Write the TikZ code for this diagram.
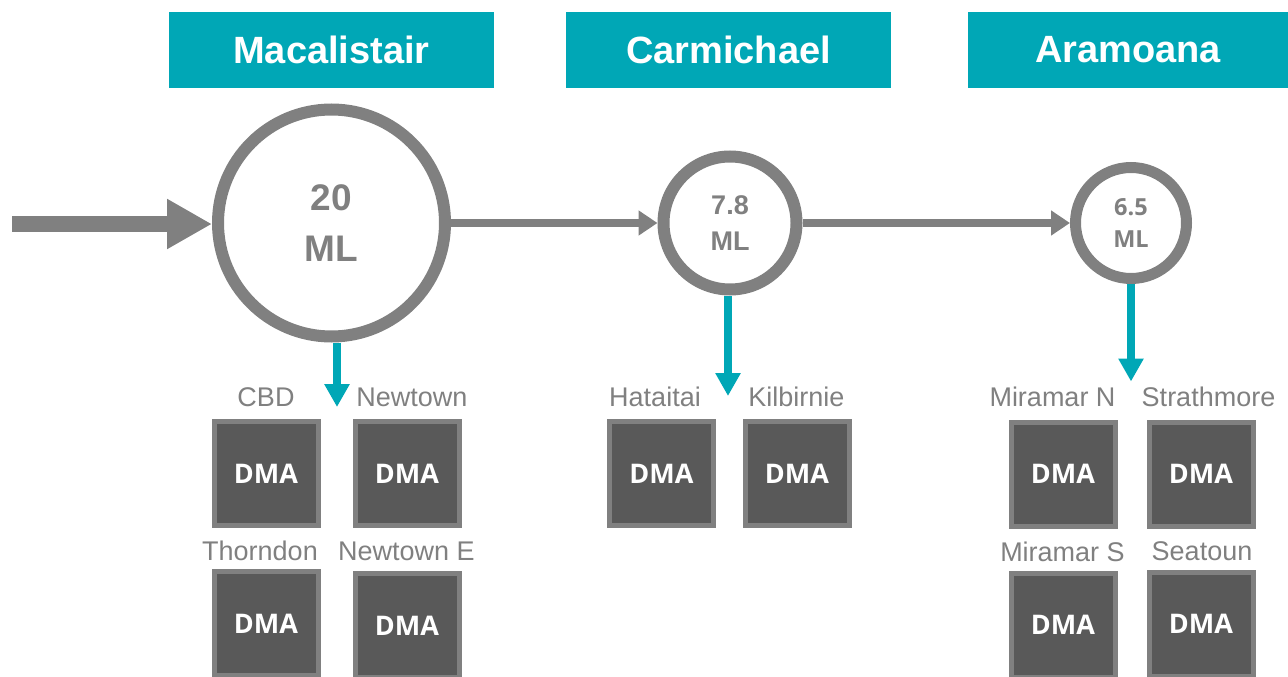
\documentclass[tikz,border=0pt]{standalone}
\usepackage{fontspec}
\setmainfont{Liberation Sans}
\newfontfamily\osans{Open Sans}
\usetikzlibrary{arrows.meta}
\definecolor{hteal}{RGB}{0,167,182}
\definecolor{lgray}{RGB}{128,128,128}
\definecolor{dgray}{RGB}{89,89,89}
\begin{document}
\begin{tikzpicture}[x=1pt,y=-1pt,
 header/.style={fill=hteal, draw=none, minimum height=76pt, inner sep=0pt, text=white, font=\fontsize{38}{40}\selectfont\bfseries},
 tank/.style={circle, draw=lgray, fill=white, line width=12pt, inner sep=0pt, text=lgray, align=center},
 dma/.style={rectangle, draw=lgray, fill=dgray, line width=5pt, minimum size=104pt, inner sep=0pt, text=white, font=\osans\bfseries\fontsize{27}{30}\selectfont},
 area/.style={text=lgray, inner sep=0pt, anchor=base, font=\fontsize{27}{30}\selectfont},
 flow/.style={draw=lgray, line width=7.5pt, -{Triangle[length=19pt,width=24pt]}},
 feed/.style={draw=hteal, line width=8pt, -{Triangle[length=23pt,width=24pt]}},
]
\useasboundingbox (0,0) rectangle (1288,677);

% headers
\node[header, minimum width=325pt] (hmac) at (331.5,50) {Macalistair};
\node[header, minimum width=325pt] (hcar) at (728.5,50) {Carmichael};
\node[header, minimum width=320pt] (hara) at (1128,50) {Aramoana};

% reservoirs
\node[tank, minimum size=227pt, font=\fontsize{37}{50.5}\selectfont\bfseries] (c1) at (331.5,223) {20\\ML};
\node[tank, minimum size=133pt, font=\fontsize{27}{35.5}\selectfont\bfseries] (c2) at (730,223) {7.8\\ML};
\node[tank, line width=11pt, minimum size=111pt, font=\osans\fontsize{23.5}{32}\selectfont\bfseries] (c3) at (1131,223) {6.5\\ML};

% flows
\coordinate (in) at (12,224);
\draw[flow, line width=16pt, -{Triangle[length=45pt,width=47pt]}] (in) -- (in -| c1.west);
\draw[flow] (c1.east) -- (c2.west);
\draw[flow] (c2.east) -- (c3.west);

% feeds to DMAs
\coordinate (f1) at (337,407);
\coordinate (f2) at (728,396);
\coordinate (f3) at (1131,381.5);
\draw[feed] (f1 |- c1.south) -- (f1);
\draw[feed] (f2 |- c2.south) -- (f2);
\draw[feed] (f3 |- c3.south) -- (f3);

% labels
\node[area] (lcbd) at (266,406.5) {CBD};
\node[area] (lnew) at (412,406.5) {Newtown};
\node[area] (ltho) at (260,560) {Thorndon};
\node[area] (lnee) at (406.5,560) {Newtown E};
\node[area] (lhat) at (655,406.5) {Hataitai};
\node[area] (lkil) at (796.5,406.5) {Kilbirnie};
\node[area] (lmin) at (1052.5,406.5) {Miramar N};
\node[area] (lstr) at (1208.5,406.5) {Strathmore};
\node[area] (lmis) at (1062.5,561) {Miramar S};
\node[area] (lsea) at (1202,560.5) {Seatoun};

% DMA boxes
\node[dma] (dcbd) at (266,473.5) {DMA};
\node[dma] (dnew) at (407,473.5) {DMA};
\node[dma] (dtho) at (266,623.5) {DMA};
\node[dma] (dnee) at (407,625.5) {DMA};
\node[dma] (dhat) at (661.5,473.5) {DMA};
\node[dma] (dkil) at (797,473.5) {DMA};
\node[dma] (dmin) at (1063,474) {DMA};
\node[dma] (dstr) at (1201,474) {DMA};
\node[dma] (dmis) at (1063,625) {DMA};
\node[dma] (dsea) at (1201,624) {DMA};
\end{tikzpicture}
\end{document}
